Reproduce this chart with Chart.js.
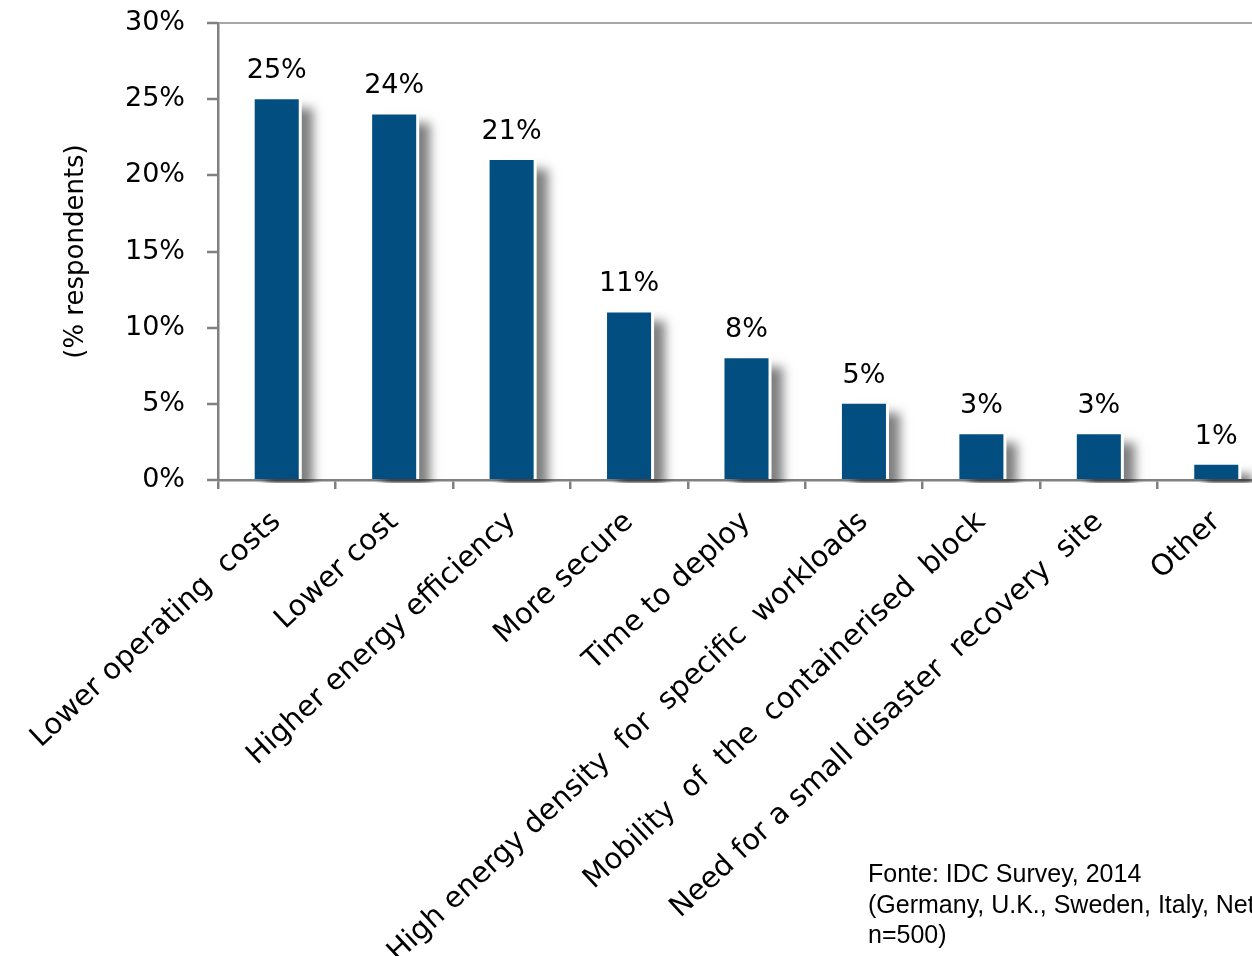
<!DOCTYPE html>
<html>
<head>
<meta charset="utf-8">
<script src="https://cdn.jsdelivr.net/npm/chart.js@4/dist/chart.umd.min.js"></script>
<style>
  html, body { margin: 0; padding: 0; background: #fff; overflow: hidden; }
  #wrap { width: 1275px; height: 956px; position: relative; }
</style>
</head>
<body>
<div id="wrap"><canvas id="reasonsChart"></canvas></div>
<script>
const categories = [
  "Lower operating  costs",
  "Lower cost",
  "Higher energy efficiency",
  "More secure",
  "Time to deploy",
  "High energy density  for  specific  workloads",
  "Mobility  of  the  containerised  block",
  "Need for a small disaster  recovery  site",
  "Other"
];
const shares = [25, 24, 21, 11, 8, 5, 3, 3, 1];
const sourceLines = [
  "Fonte: IDC Survey, 2014",
  "(Germany, U.K., Sweden, Italy, Netherlands,",
  "n=500)"
];

const axisGray = "#808080";
const labelFont = "'DejaVu Sans', Verdana, sans-serif";

// soft grey shadow right of every bar, with a thin white gap
const barShadow = {
  id: "barShadow",
  beforeDatasetsDraw(chart) {
    const ctx = chart.ctx;
    const area = chart.chartArea;
    ctx.save();
    ctx.beginPath();
    ctx.rect(area.left, area.top - 20, area.right - area.left + 20, area.bottom + 3 - area.top + 20);
    ctx.clip();
    ctx.fillStyle = "#fff";
    ctx.shadowColor = "rgba(0,0,0,0.5)";
    ctx.shadowBlur = 10;
    ctx.shadowOffsetX = 11;
    ctx.shadowOffsetY = 9;
    chart.getDatasetMeta(0).data.forEach(bar => {
      const p = bar.getProps(["x", "y", "base", "width"], true);
      ctx.fillRect(p.x - p.width / 2, p.y, p.width + 3, p.base - p.y);
    });
    ctx.restore();
  }
};

const valueLabels = {
  id: "valueLabels",
  afterDatasetsDraw(chart) {
    const ctx = chart.ctx;
    ctx.save();
    ctx.font = "27px " + labelFont;
    ctx.fillStyle = "#000";
    ctx.textAlign = "center";
    ctx.textBaseline = "alphabetic";
    chart.getDatasetMeta(0).data.forEach((bar, i) => {
      ctx.fillText(shares[i] + "%", bar.x, bar.y - 21);
    });
    ctx.restore();
  }
};

const sourceNote = {
  id: "sourceNote",
  afterDraw(chart) {
    const ctx = chart.ctx;
    ctx.save();
    ctx.font = "25px 'Liberation Sans', Arial, sans-serif";
    ctx.fillStyle = "#000";
    ctx.textAlign = "left";
    ctx.textBaseline = "alphabetic";
    sourceLines.forEach((line, i) => {
      ctx.fillText(line, 868, 882 + i * 30.5);
    });
    ctx.restore();
  }
};

const ctx = document.getElementById("reasonsChart");

new Chart(ctx, {
  type: "bar",
  data: {
    labels: categories,
    datasets: [{
      data: shares,
      backgroundColor: "#034e80",
      borderWidth: 0,
      barPercentage: 0.375,
      categoryPercentage: 1
    }]
  },
  options: {
    responsive: true,
    maintainAspectRatio: false,
    animation: false,
    layout: { padding: 0 },
    scales: {
      x: {
        afterFit: scale => { scale.height = 476; },
        border: { color: axisGray, width: 2.5 },
        grid: {
          offset: true,
          drawOnChartArea: false,
          color: axisGray,
          tickLength: 9,
          lineWidth: 2.5
        },
        ticks: {
          autoSkip: false,
          minRotation: 43,
          maxRotation: 43,
          padding: 16,
          color: "#000",
          font: { family: labelFont, size: 29 }
        }
      },
      y: {
        min: 0,
        max: 30,
        afterFit: scale => {
          scale.width = 218;
          scale.paddingTop = 23;
          scale.paddingBottom = 0;
        },
        border: { color: axisGray, width: 2.5 },
        grid: {
          color: c => (c.tick && c.tick.value === 30 ? "#a6a6a6" : "rgba(0,0,0,0)"),
          lineWidth: 2,
          tickColor: axisGray,
          tickWidth: 2.5,
          tickLength: 11
        },
        ticks: {
          stepSize: 5,
          padding: 22,
          color: "#000",
          font: { family: labelFont, size: 27 },
          callback: v => v + "%"
        },
        title: {
          display: true,
          text: "(% respondents)",
          color: "#000",
          font: { family: labelFont, size: 26 },
          padding: { top: 61, bottom: 0 }
        }
      }
    },
    plugins: {
      legend: { display: false },
      tooltip: { enabled: false }
    }
  },
  plugins: [barShadow, valueLabels, sourceNote]
});
</script>
</body>
</html>
